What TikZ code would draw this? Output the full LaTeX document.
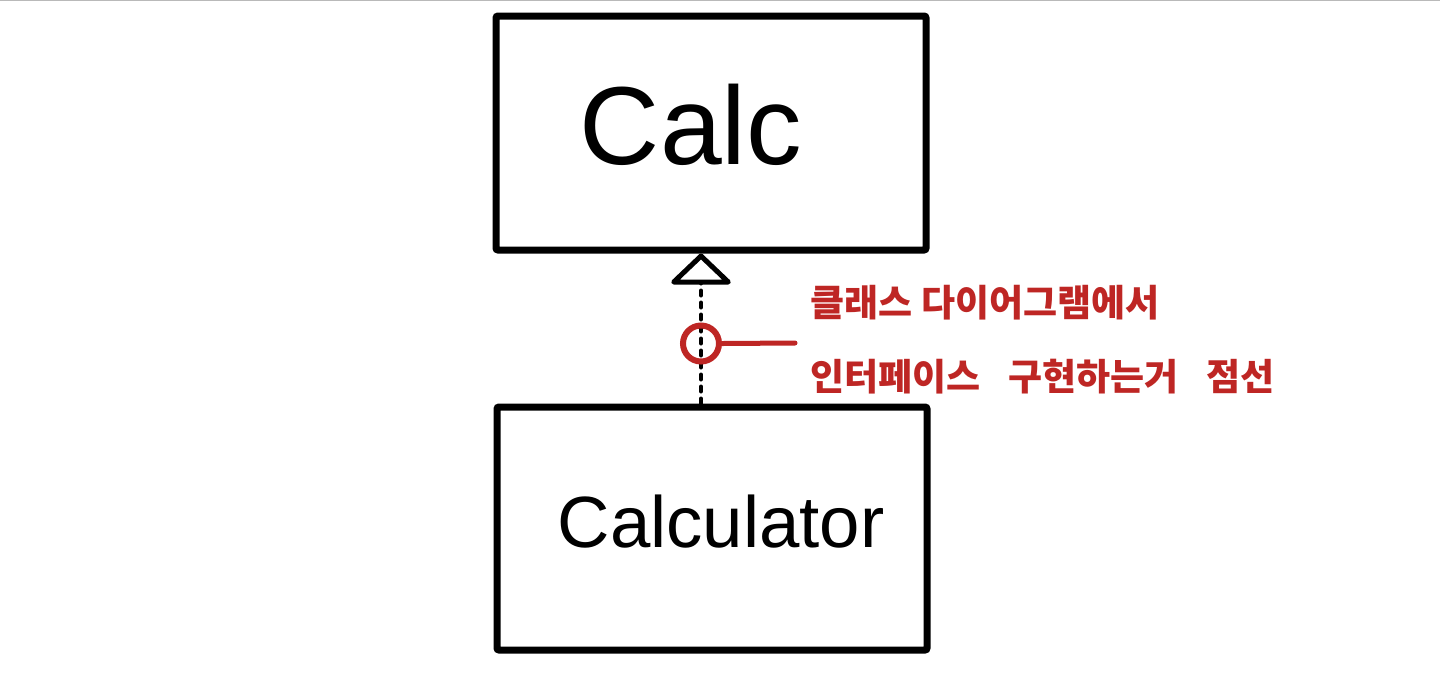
\documentclass[tikz,border=0pt]{standalone}
\usepackage{fontspec}
\setmainfont{Liberation Sans}
\newfontfamily\krfont{Noto Sans CJK KR}
\usetikzlibrary{arrows.meta}
\definecolor{penred}{RGB}{190,38,36}
\tikzset{
    classbox/.style={draw=black, line width=3.5pt, rounded corners=1pt, minimum width=215pt, inner sep=0pt},
    classname/.style={inner sep=0pt, text=black},
    notetext/.style={anchor=base west, inner sep=0pt, text=penred, font=\krfont\bfseries\fontsize{18.5pt}{22pt}\selectfont},
}

\begin{document}
\begin{tikzpicture}[x=0.5pt, y=-0.5pt]
    \useasboundingbox (0,0) rectangle (1440,676);
    \draw [gray!55, line width=0.7pt] (0,0.6) -- (1440,0.6);

    % interface and class
    \node [classbox, minimum height=117pt] (calc) at (711,133) {};
    \node [classbox, minimum height=121.5pt] (calculator) at (712,528.5) {};
    \node [classname, font=\fontsize{55.5pt}{60pt}\selectfont] (calcname) at (691,125) {Calc};
    \node [classname, font=\fontsize{36.3pt}{40pt}\selectfont] (calculatorname) at (721,522) {Calculator};

    % realization
    \draw [black, line width=2pt, line cap=round, dash pattern=on 2.5pt off 3.5pt,
           -{Triangle[open, round, length=16pt, width=33pt, line width=2.5pt]}]
        (calculator.north -| 701,0) -- coordinate[pos=0.4] (mid) (calc.south -| 701,0);

    % note
    \node [circle, draw=penred, line width=3pt, minimum size=18pt, inner sep=0pt] (ring) at (mid) {};
    \coordinate (noteend) at (795,343);
    \draw [penred, line width=2.5pt, line cap=round] (ring.east) -- (noteend);
    \node [notetext] (note1) at (810,316) {클래스 다이어그램에서};
    \node [notetext] (note2) at (810,390) {\spaceskip=0.75em 인터페이스 구현하는거 점선};
\end{tikzpicture}
\end{document}
